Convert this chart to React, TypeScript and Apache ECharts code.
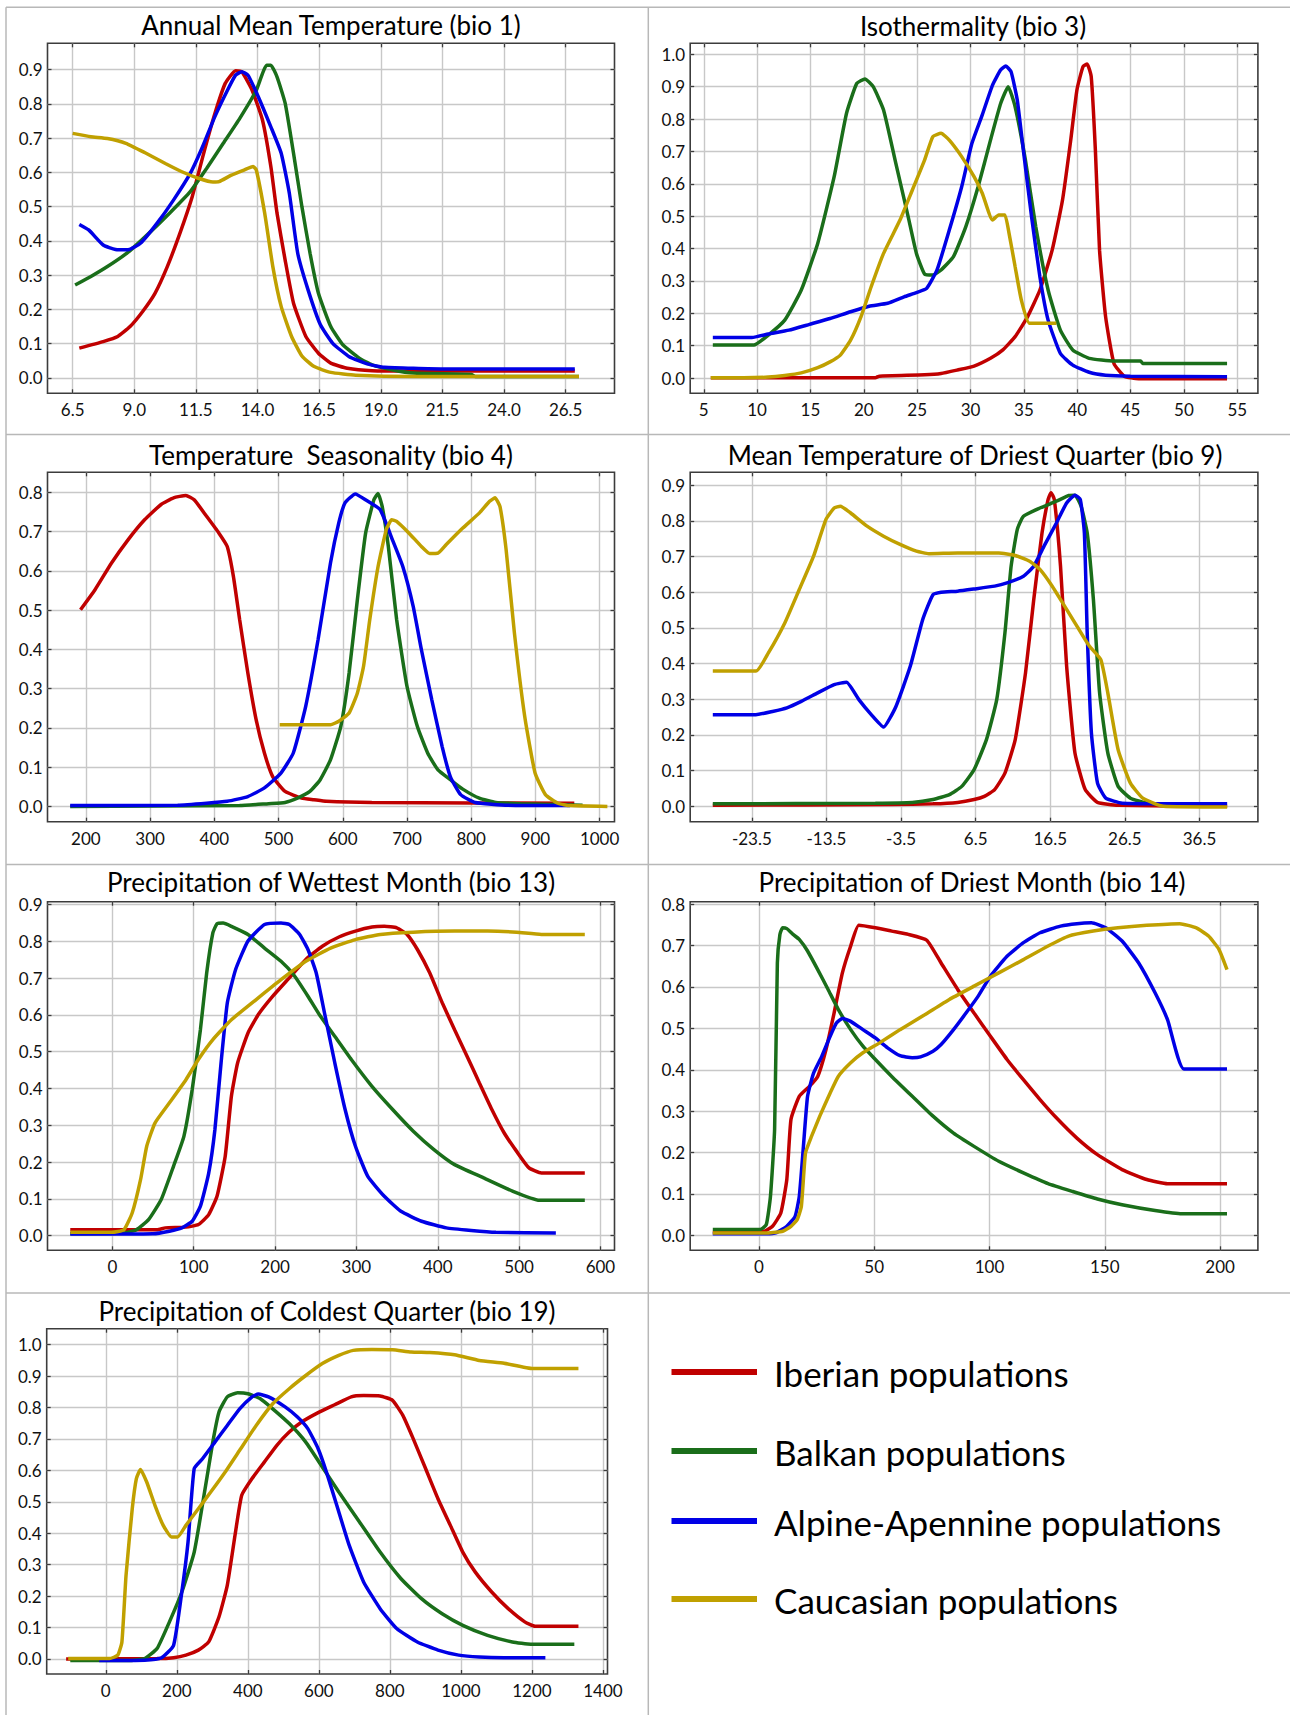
import React, { useEffect, useRef } from "react";
import * as echarts from "echarts";

const SERIES_NAMES = ["Iberian populations", "Balkan populations", "Alpine-Apennine populations", "Caucasian populations"];
const COLORS = ["#c00000", "#1a6e1a", "#0000e6", "#c0a000"];

// ---------- bio 1 ----------
const bio1XTicks = [6.5, 9.0, 11.5, 14.0, 16.5, 19.0, 21.5, 24.0, 26.5];
const bio1YTicks = [0, 0.1, 0.2, 0.3, 0.4, 0.5, 0.6, 0.7, 0.8, 0.9];
const bio1Iberian = [[6.77,0.087],[7.74,0.106],[8.33,0.121],[8.83,0.150],[9.34,0.194],[9.84,0.247],[10.34,0.325],[10.85,0.422],[11.35,0.529],[11.85,0.665],[12.27,0.772],[12.69,0.860],[13.11,0.897],[13.36,0.894],[13.78,0.840],[14.2,0.753],[14.54,0.617],[14.79,0.481],[15.12,0.344],[15.46,0.218],[15.96,0.121],[16.47,0.072],[16.97,0.043],[17.64,0.028],[18.65,0.021],[20.3,0.02],[26.87,0.02]];
const bio1Balkan = [[6.6,0.271],[7.24,0.296],[7.91,0.325],[8.75,0.367],[9.59,0.422],[10.43,0.481],[11.27,0.544],[11.94,0.612],[12.61,0.685],[13.28,0.758],[13.95,0.840],[14.37,0.913],[14.54,0.913],[14.79,0.879],[15.12,0.802],[15.46,0.656],[15.8,0.5],[16.13,0.364],[16.47,0.247],[16.97,0.150],[17.47,0.096],[18.14,0.057],[18.65,0.038],[19.49,0.023],[20.33,0.014],[22.67,0.010],[22.84,0.004],[27.04,0.004]];
const bio1Alpine = [[6.77,0.448],[7.15,0.432],[7.74,0.388],[8.24,0.375],[8.75,0.374],[9.25,0.393],[9.92,0.451],[10.59,0.519],[11.27,0.597],[11.77,0.675],[12.27,0.763],[12.78,0.840],[13.11,0.884],[13.36,0.894],[13.61,0.884],[14.03,0.821],[14.54,0.733],[14.96,0.656],[15.29,0.539],[15.63,0.364],[16.05,0.257],[16.55,0.155],[17.05,0.101],[17.72,0.062],[18.48,0.040],[19.15,0.031],[21.5,0.026],[26.87,0.026]];
const bio1Caucasian = [[6.5,0.714],[7.24,0.704],[7.91,0.699],[8.66,0.685],[9.42,0.658],[10.26,0.626],[10.93,0.602],[11.6,0.583],[12.19,0.572],[12.44,0.573],[12.94,0.592],[13.45,0.607],[13.82,0.617],[13.95,0.607],[14.29,0.481],[14.62,0.325],[14.96,0.208],[15.38,0.121],[15.8,0.064],[16.3,0.033],[16.97,0.016],[17.98,0.008],[20.33,0.004],[27.04,0.004]];

// ---------- bio 3 ----------
const bio3XTicks = [5, 10, 15, 20, 25, 30, 35, 40, 45, 50, 55];
const bio3YTicks = [0, 0.1, 0.2, 0.3, 0.4, 0.5, 0.6, 0.7, 0.8, 0.9, 1.0];
const bio3Iberian = [[5.66,0.001],[21.08,0.001],[21.46,0.006],[25.7,0.010],[27.24,0.014],[28.79,0.025],[30.33,0.037],[31.87,0.061],[33.03,0.087],[34.18,0.128],[35.34,0.189],[36.5,0.272],[37.65,0.395],[38.62,0.550],[39.39,0.735],[39.97,0.890],[40.54,0.962],[40.93,0.970],[41.31,0.931],[41.7,0.704],[42.09,0.395],[42.66,0.189],[43.44,0.045],[44.4,0.006],[45.75,-0.002],[54.04,-0.002]];
const bio3Balkan = [[5.85,0.102],[9.7,0.102],[11.05,0.133],[12.59,0.179],[14.14,0.272],[15.68,0.416],[17.22,0.622],[18.38,0.818],[19.34,0.910],[20.11,0.924],[20.88,0.900],[21.85,0.828],[23.0,0.663],[24.16,0.498],[24.93,0.385],[25.7,0.321],[26.47,0.318],[27.24,0.334],[28.4,0.375],[29.56,0.468],[30.71,0.591],[31.87,0.735],[32.83,0.849],[33.53,0.900],[34.18,0.838],[35.14,0.674],[36.11,0.468],[37.27,0.272],[38.42,0.148],[39.58,0.087],[41.12,0.061],[43.44,0.053],[45.94,0.053],[46.13,0.045],[54.04,0.045]];
const bio3Alpine = [[5.85,0.125],[9.51,0.125],[11.05,0.136],[12.98,0.148],[14.91,0.166],[16.83,0.184],[18.76,0.205],[20.5,0.222],[22.23,0.231],[23.77,0.251],[24.93,0.264],[25.89,0.277],[26.86,0.334],[28.01,0.457],[29.17,0.591],[30.13,0.725],[31.1,0.813],[32.06,0.905],[32.83,0.952],[33.3,0.964],[33.8,0.946],[34.38,0.859],[34.95,0.704],[35.72,0.498],[36.5,0.313],[37.27,0.179],[38.42,0.076],[39.58,0.040],[41.12,0.018],[42.66,0.009],[44.98,0.006],[54.04,0.004]];
const bio3Caucasian = [[5.66,0.001],[8.74,0.001],[11.05,0.003],[12.59,0.008],[14.14,0.016],[15.68,0.032],[16.83,0.050],[17.8,0.071],[18.76,0.117],[19.73,0.189],[20.69,0.282],[21.85,0.385],[23.39,0.488],[24.55,0.581],[25.7,0.674],[26.47,0.746],[27.24,0.756],[28.01,0.735],[29.17,0.684],[30.33,0.622],[31.1,0.571],[32.06,0.488],[32.64,0.504],[33.22,0.504],[33.61,0.447],[34.18,0.344],[34.76,0.241],[35.53,0.169],[38.04,0.169]];

// ---------- bio 4 ----------
const bio4XTicks = [200, 300, 400, 500, 600, 700, 800, 900, 1000];
const bio4YTicks = [0, 0.1, 0.2, 0.3, 0.4, 0.5, 0.6, 0.7, 0.8];
const bio4Iberian = [[191.6,0.501],[214.2,0.552],[239.9,0.620],[265.6,0.679],[291.4,0.730],[317.1,0.769],[336.4,0.786],[355.7,0.792],[368.6,0.781],[387.9,0.739],[407.2,0.696],[420.1,0.662],[429.7,0.586],[439.4,0.476],[452.2,0.340],[465.1,0.221],[478,0.136],[490.9,0.076],[510.2,0.038],[535.9,0.021],[555.2,0.017],[574.5,0.013],[645.3,0.010],[960.6,0.008]];
const bio4Balkan = [[175.5,0.0],[439.4,0.002],[484.4,0.007],[510.2,0.010],[529.5,0.021],[548.8,0.038],[564.9,0.068],[581,0.119],[597.0,0.204],[609.9,0.340],[622.8,0.527],[635.6,0.696],[648.5,0.781],[654.9,0.797],[661.4,0.764],[671,0.662],[683.9,0.476],[700,0.306],[716.1,0.204],[732.2,0.136],[748.3,0.093],[767.6,0.068],[786.9,0.044],[812.6,0.021],[838.4,0.010],[877,0.007],[973.5,0.003]];
const bio4Alpine = [[175.5,0.002],[342.9,0.003],[387.9,0.008],[420.1,0.013],[452.2,0.025],[478,0.047],[503.7,0.085],[523,0.136],[542.3,0.255],[561.6,0.425],[580.9,0.620],[593.8,0.722],[603.5,0.773],[619.6,0.796],[635.6,0.781],[658.1,0.756],[677.4,0.679],[693.5,0.611],[709.6,0.510],[722.5,0.399],[738.6,0.272],[754.7,0.153],[767.5,0.076],[783.6,0.030],[806.2,0.010],[857.6,0.003],[954.2,0.002]];
const bio4Caucasian = [[501.8,0.208],[581,0.208],[593.8,0.217],[609.9,0.238],[622.8,0.289],[632.4,0.357],[642.1,0.476],[655,0.611],[667.8,0.705],[676.2,0.730],[683.9,0.726],[703.2,0.696],[722.5,0.662],[735.4,0.644],[748.3,0.645],[761.2,0.667],[786.9,0.709],[812.6,0.747],[828.7,0.777],[837.1,0.786],[844.8,0.764],[854.4,0.654],[867.3,0.442],[883.4,0.229],[899.5,0.085],[915.6,0.030],[934.9,0.008],[954.2,0.002],[1012.1,0.0]];

// ---------- bio 9 ----------
const bio9XTicks = [-23.5, -13.5, -3.5, 6.5, 16.5, 26.5, 36.5];
const bio9YTicks = [0, 0.1, 0.2, 0.3, 0.4, 0.5, 0.6, 0.7, 0.8, 0.9];
const bio9Iberian = [[-28.74,0.003],[-4.75,0.005],[0.77,0.007],[4.08,0.011],[6.29,0.019],[7.66,0.028],[9.04,0.047],[10.42,0.093],[11.8,0.187],[13.18,0.374],[14.28,0.579],[15.39,0.766],[16.21,0.860],[16.6,0.879],[17.04,0.860],[17.87,0.673],[18.69,0.393],[19.8,0.150],[21.18,0.047],[22.83,0.011],[25.59,0.003],[40.21,0.0]];
const bio9Balkan = [[-28.74,0.007],[-6.95,0.009],[-1.99,0.011],[0.77,0.019],[2.98,0.033],[4.63,0.056],[6.29,0.103],[7.94,0.187],[9.32,0.299],[10.42,0.486],[11.25,0.673],[12.08,0.776],[12.9,0.813],[15.11,0.836],[17.32,0.855],[18.97,0.871],[19.8,0.872],[20.63,0.841],[21.45,0.766],[22.28,0.579],[23.11,0.318],[24.21,0.150],[25.59,0.056],[27.24,0.023],[29.45,0.009],[31.66,0.005]];
const bio9Alpine = [[-28.74,0.257],[-22.95,0.257],[-20.74,0.266],[-18.81,0.276],[-16.88,0.294],[-14.67,0.318],[-12.47,0.341],[-10.81,0.348],[-9.16,0.299],[-7.5,0.257],[-5.85,0.222],[-4.19,0.280],[-2.26,0.393],[-0.61,0.523],[0.77,0.593],[1.87,0.600],[4.08,0.603],[6.29,0.609],[9.04,0.617],[10.7,0.626],[12.9,0.645],[14.28,0.673],[15.66,0.729],[17.32,0.794],[18.69,0.850],[19.8,0.872],[20.52,0.860],[21.07,0.766],[21.45,0.486],[22.01,0.206],[22.83,0.065],[23.94,0.023],[26.14,0.009],[40.21,0.007]];
const bio9Caucasian = [[-28.74,0.379],[-22.95,0.379],[-21.29,0.430],[-19.09,0.514],[-17.16,0.607],[-15.23,0.701],[-13.57,0.804],[-12.47,0.836],[-11.64,0.841],[-10.26,0.822],[-8.06,0.785],[-5.85,0.757],[-3.64,0.734],[-1.44,0.715],[0.22,0.708],[4.08,0.710],[9.59,0.710],[11.8,0.703],[13.73,0.687],[15.11,0.664],[16.76,0.617],[18.42,0.561],[20.07,0.505],[21.73,0.449],[23.27,0.411],[24.21,0.318],[25.59,0.159],[27.24,0.065],[28.9,0.023],[31.66,0.0],[40.21,-0.002]];

// ---------- bio 13 ----------
const bio13XTicks = [0, 100, 200, 300, 400, 500, 600];
const bio13YTicks = [0, 0.1, 0.2, 0.3, 0.4, 0.5, 0.6, 0.7, 0.8, 0.9];
const bio13Iberian = [[-51.8,0.016],[54.9,0.016],[65,0.021],[90.4,0.023],[105.7,0.030],[118.4,0.057],[128.6,0.107],[138.7,0.216],[146.3,0.379],[154,0.470],[166.7,0.551],[179.4,0.601],[197.2,0.651],[217.5,0.701],[237.8,0.751],[258.1,0.787],[278.5,0.812],[298.8,0.828],[319.1,0.839],[334.3,0.841],[349.6,0.837],[362.3,0.819],[375,0.778],[390.2,0.714],[405.5,0.633],[420.7,0.560],[436,0.488],[451.2,0.415],[466.5,0.343],[481.7,0.279],[497,0.229],[512.2,0.184],[527.4,0.170],[580.8,0.170]];
const bio13Balkan = [[-51.8,0.005],[14.2,0.007],[29.5,0.016],[44.7,0.044],[60,0.098],[75.2,0.189],[87.9,0.270],[98.1,0.397],[108.2,0.560],[115.9,0.714],[123.5,0.823],[128.6,0.848],[136.2,0.850],[146.3,0.841],[166.7,0.819],[187,0.782],[207.3,0.746],[222.6,0.710],[240.4,0.651],[255.6,0.597],[273.4,0.542],[293.7,0.479],[319.1,0.406],[344.5,0.343],[369.9,0.284],[395.3,0.234],[420.7,0.193],[456.3,0.157],[491.9,0.121],[524.9,0.096],[580.8,0.096]];
const bio13Alpine = [[-51.8,0.004],[49.8,0.005],[70.1,0.012],[85.4,0.021],[98.1,0.039],[108.2,0.080],[118.4,0.170],[126,0.288],[133.6,0.470],[141.3,0.633],[151.4,0.723],[166.7,0.801],[187,0.846],[207.3,0.850],[217.5,0.846],[230.2,0.819],[240.4,0.778],[250.6,0.714],[260.7,0.606],[273.4,0.470],[286.1,0.343],[298.8,0.243],[314,0.161],[334.3,0.107],[354.7,0.066],[380.1,0.039],[410.6,0.021],[441.1,0.014],[471.5,0.009],[545.2,0.007]];
const bio13Caucasian = [[-51.8,0.009],[-1,0.009],[14.2,0.016],[24.4,0.062],[34.6,0.152],[42.2,0.243],[52.3,0.306],[70.1,0.361],[90.4,0.424],[105.7,0.479],[123.5,0.533],[146.3,0.587],[176.8,0.642],[207.3,0.696],[237.8,0.746],[268.3,0.782],[298.8,0.805],[329.3,0.819],[369.9,0.825],[420.7,0.828],[461.4,0.828],[497,0.825],[527.4,0.819],[580.8,0.819]];

// ---------- bio 14 ----------
const bio14XTicks = [0, 50, 100, 150, 200];
const bio14YTicks = [0, 0.1, 0.2, 0.3, 0.4, 0.5, 0.6, 0.7, 0.8];
const bio14Iberian = [[-20,0.007],[2.3,0.010],[5.9,0.022],[9.5,0.054],[12.1,0.135],[13.9,0.280],[17.5,0.336],[21.9,0.360],[25.5,0.384],[29.1,0.449],[32.6,0.537],[36.2,0.634],[39.8,0.699],[43.3,0.749],[50.5,0.743],[57.6,0.735],[64.8,0.727],[72.8,0.713],[79,0.658],[86.2,0.594],[93.3,0.537],[100.4,0.481],[107.6,0.425],[114.7,0.376],[121.9,0.328],[129,0.284],[137.9,0.235],[146.8,0.195],[157.5,0.159],[168.2,0.135],[177.2,0.125],[184.3,0.125],[203,0.125]];
const bio14Balkan = [[-20,0.014],[0.5,0.014],[3.2,0.026],[5,0.094],[6.8,0.255],[8,0.658],[9.1,0.727],[10.3,0.743],[12.1,0.741],[14.8,0.727],[17.5,0.715],[21.1,0.687],[25.5,0.642],[30,0.594],[34.4,0.546],[39.8,0.497],[45.1,0.457],[50.5,0.425],[57.6,0.384],[66.5,0.336],[75.5,0.288],[84.4,0.247],[93.3,0.215],[104,0.179],[114.7,0.151],[125.4,0.125],[136.1,0.106],[146.8,0.088],[157.5,0.074],[171.8,0.060],[183.4,0.052],[203,0.052]];
const bio14Alpine = [[-20,0.004],[3.2,0.004],[7.7,0.007],[12.1,0.022],[15.7,0.046],[17.5,0.094],[19.3,0.215],[21.1,0.336],[23.7,0.392],[27.3,0.433],[30.9,0.481],[33.6,0.513],[36.2,0.524],[39.8,0.517],[45.1,0.497],[50.5,0.477],[55.8,0.453],[61.2,0.434],[66.5,0.429],[70.1,0.431],[75.5,0.445],[79,0.461],[84.4,0.497],[89.8,0.537],[95.1,0.578],[100.4,0.626],[107.6,0.674],[114.7,0.707],[121.9,0.731],[130.8,0.747],[137.9,0.753],[144.2,0.755],[150.4,0.743],[157.5,0.711],[164.7,0.658],[171.8,0.586],[177.2,0.521],[184.3,0.402],[203,0.402]];
const bio14Caucasian = [[-20,0.006],[4.1,0.006],[10.3,0.010],[13.9,0.022],[16.6,0.038],[18.4,0.070],[20.2,0.199],[22.8,0.239],[26.4,0.288],[30.9,0.344],[34.4,0.384],[39.8,0.417],[45.1,0.441],[52.3,0.465],[61.2,0.497],[71.9,0.533],[82.6,0.570],[93.3,0.602],[104,0.634],[114.7,0.666],[125.4,0.699],[134.3,0.723],[145,0.735],[155.7,0.743],[168.2,0.749],[182.5,0.753],[189.7,0.743],[195,0.723],[199.5,0.691],[203,0.642]];

// ---------- bio 19 ----------
const bio19XTicks = [0, 200, 400, 600, 800, 1000, 1200, 1400];
const bio19YTicks = [0, 0.1, 0.2, 0.3, 0.4, 0.5, 0.6, 0.7, 0.8, 0.9, 1.0];
const bio19Iberian = [[-111.7,0.0],[144.3,0.001],[190.8,0.004],[225.7,0.012],[260.6,0.028],[289.7,0.054],[318.8,0.134],[342.1,0.234],[365.3,0.404],[382.8,0.521],[411.9,0.574],[446.8,0.627],[481.7,0.680],[516.6,0.722],[551.5,0.754],[598,0.784],[644.6,0.809],[691.1,0.834],[726,0.838],[772.5,0.837],[807.4,0.823],[836.5,0.775],[865.6,0.701],[900.5,0.606],[935.4,0.510],[970.3,0.425],[1005.2,0.340],[1040.1,0.277],[1086.7,0.213],[1133.2,0.160],[1179.8,0.118],[1208.8,0.104],[1331,0.104]];
const bio19Balkan = [[-100,-0.005],[62.8,-0.005],[109.4,0.001],[144.3,0.033],[179.2,0.118],[214.1,0.213],[249,0.340],[278.1,0.531],[301.3,0.690],[318.8,0.786],[342.1,0.834],[371.2,0.847],[400.2,0.844],[435.1,0.828],[470.1,0.796],[516.6,0.749],[563.1,0.690],[609.7,0.611],[656.2,0.531],[714.4,0.436],[772.5,0.340],[830.7,0.256],[888.9,0.192],[947.1,0.144],[1005.2,0.107],[1075,0.075],[1144.9,0.054],[1197.2,0.047],[1319.4,0.047]];
const bio19Alpine = [[-18.6,-0.005],[109.4,-0.004],[155.9,0.003],[190.8,0.043],[214.1,0.213],[231.6,0.372],[249,0.606],[272.3,0.637],[307.2,0.690],[342.1,0.743],[377,0.796],[411.9,0.834],[429.3,0.843],[458.4,0.834],[504.9,0.802],[539.8,0.770],[568.9,0.733],[598,0.669],[621.3,0.595],[650.4,0.489],[685.3,0.362],[726,0.245],[772.5,0.160],[819.1,0.097],[877.3,0.054],[935.4,0.028],[993.6,0.012],[1051.8,0.006],[1121.6,0.004],[1237.9,0.004]];
const bio19Caucasian = [[-105.9,0.001],[10.5,0.001],[33.7,0.012],[45.4,0.054],[57,0.266],[74.5,0.478],[86.1,0.574],[97.7,0.603],[115.2,0.563],[138.4,0.489],[161.7,0.425],[185,0.388],[202.4,0.388],[225.7,0.425],[260.6,0.478],[295.5,0.531],[336.3,0.595],[377,0.664],[423.5,0.743],[470.1,0.812],[516.6,0.860],[563.1,0.902],[609.7,0.940],[656.2,0.966],[696.9,0.982],[749.3,0.985],[807.4,0.984],[859.8,0.977],[912.1,0.975],[982,0.968],[1051.8,0.950],[1121.6,0.941],[1203,0.924],[1331,0.924]];

// ---------- panel layout (pixels / axis extents) ----------
const PANELS = [
  { title: "Annual Mean Temperature (bio 1)", tx: 331, ty: 25, frame: [47.5, 43.3, 614.5, 393.3], x: [5.48, 28.48], y: [-0.045, 0.977], xTicks: bio1XTicks, yTicks: bio1YTicks, xDec: 1, series: [bio1Iberian, bio1Balkan, bio1Alpine, bio1Caucasian] },
  { title: "Isothermality (bio 3)", tx: 973, ty: 26, frame: [690.2, 43.3, 1257.9, 393.3], x: [3.73, 56.93], y: [-0.047, 1.034], xTicks: bio3XTicks, yTicks: bio3YTicks, xDec: 0, series: [bio3Iberian, bio3Balkan, bio3Alpine, bio3Caucasian] },
  { title: "Temperature  Seasonality (bio 4)", tx: 331, ty: 455, frame: [47.5, 472.3, 614.5, 821.7], x: [140.2, 1023.2], y: [-0.039, 0.851], xTicks: bio4XTicks, yTicks: bio4YTicks, xDec: 0, series: [bio4Iberian, bio4Balkan, bio4Alpine, bio4Caucasian] },
  { title: "Mean Temperature of Driest Quarter (bio 9)", tx: 975, ty: 455, frame: [690.2, 472.3, 1257.9, 821.7], x: [-31.77, 44.33], y: [-0.043, 0.936], xTicks: bio9XTicks, yTicks: bio9YTicks, xDec: 1, series: [bio9Iberian, bio9Balkan, bio9Alpine, bio9Caucasian] },
  { title: "Precipitation of Wettest Month (bio 13)", tx: 331, ty: 882, frame: [47.5, 901.7, 614.5, 1250.3], x: [-79.8, 617.3], y: [-0.04, 0.908], xTicks: bio13XTicks, yTicks: bio13YTicks, xDec: 0, series: [bio13Iberian, bio13Balkan, bio13Alpine, bio13Caucasian] },
  { title: "Precipitation of Driest Month (bio 14)", tx: 972, ty: 882, frame: [690.2, 901.7, 1257.9, 1250.3], x: [-29.8, 216.4], y: [-0.036, 0.806], xTicks: bio14XTicks, yTicks: bio14YTicks, xDec: 0, series: [bio14Iberian, bio14Balkan, bio14Alpine, bio14Caucasian] },
  { title: "Precipitation of Coldest Quarter (bio 19)", tx: 327, ty: 1311, frame: [46.7, 1328.7, 607.5, 1674], x: [-166.4, 1412.8], y: [-0.048, 1.051], xTicks: bio19XTicks, yTicks: bio19YTicks, xDec: 0, series: [bio19Iberian, bio19Balkan, bio19Alpine, bio19Caucasian] },
];

const LEGEND_Y = [1372, 1451, 1521, 1599];
const FONT = "Lato";

function buildOption() {
  const grid: any[] = [];
  const xAxis: any[] = [];
  const yAxis: any[] = [];
  const series: any[] = [];
  const graphic: any[] = [];

  PANELS.forEach((p, i) => {
    const [l, t, r, b] = p.frame;
    grid.push({ left: l, top: t, width: r - l, height: b - t, show: true, borderColor: "#3c3c3c", borderWidth: 1.6, backgroundColor: "transparent", containLabel: false });
    const tickCommon = { show: true, inside: true, length: 4, lineStyle: { color: "#3c3c3c", width: 1.3 } };
    const noLine = { show: false, onZero: false };
    xAxis.push({
      type: "value", gridIndex: i, min: p.x[0], max: p.x[1], position: "bottom",
      axisLine: noLine,
      axisTick: { ...tickCommon, customValues: p.xTicks },
      axisLabel: { show: true, customValues: p.xTicks, margin: 8, color: "#111", fontSize: 17, fontFamily: FONT, formatter: (v: number) => v.toFixed(p.xDec) },
      splitLine: { show: true, lineStyle: { color: "#c8c8c8", width: 1.4 } },
    });
    xAxis.push({
      type: "value", gridIndex: i, min: p.x[0], max: p.x[1], position: "top",
      axisLine: noLine,
      axisTick: { ...tickCommon, customValues: p.xTicks },
      axisLabel: { show: false },
      splitLine: { show: false },
    });
    yAxis.push({
      type: "value", gridIndex: i, min: p.y[0], max: p.y[1], position: "left",
      axisLine: noLine,
      axisTick: { ...tickCommon, customValues: p.yTicks },
      axisLabel: { show: true, customValues: p.yTicks, margin: 5, color: "#111", fontSize: 17, fontFamily: FONT, formatter: (v: number) => v.toFixed(1) },
      splitLine: { show: true, lineStyle: { color: "#c8c8c8", width: 1.4 } },
    });
    yAxis.push({
      type: "value", gridIndex: i, min: p.y[0], max: p.y[1], position: "right",
      axisLine: noLine,
      axisTick: { ...tickCommon, customValues: p.yTicks },
      axisLabel: { show: false },
      splitLine: { show: false },
    });
    p.series.forEach((d, k) => {
      series.push({
        type: "line", name: SERIES_NAMES[k], xAxisIndex: 2 * i, yAxisIndex: 2 * i,
        data: d, showSymbol: false, symbol: "none", smooth: 0.15, clip: true,
        lineStyle: { color: COLORS[k], width: 3.5 }, itemStyle: { color: COLORS[k] }, z: 3,
      });
    });
    graphic.push({ type: "text", x: p.tx, y: p.ty, style: { text: p.title, fontSize: 26, fontFamily: FONT, fill: "#000", align: "center", verticalAlign: "middle" } });
  });

  // panel separators
  const sep = { stroke: "#b8b8b8", lineWidth: 1.5 };
  [7.3, 434.5, 864.5, 1293].forEach((y) => graphic.push({ type: "line", shape: { x1: 6, y1: y, x2: 1290, y2: y }, style: sep }));
  [6, 648.3].forEach((x) => graphic.push({ type: "line", shape: { x1: x, y1: 7.3, x2: x, y2: 1715 }, style: sep }));

  // legend
  SERIES_NAMES.forEach((name, k) => {
    graphic.push({ type: "line", shape: { x1: 671.5, y1: LEGEND_Y[k], x2: 757, y2: LEGEND_Y[k] }, style: { stroke: COLORS[k], lineWidth: 6 } });
    graphic.push({ type: "text", x: 774, y: LEGEND_Y[k] + 1, style: { text: name, fontSize: 35, fontFamily: FONT, fill: "#000", align: "left", verticalAlign: "middle" } });
  });

  return { animation: false, backgroundColor: "#fff", grid, xAxis, yAxis, series, graphic };
}

export default function App() {
  const ref = useRef<HTMLDivElement>(null);
  useEffect(() => {
    if (!ref.current) return;
    const chart = echarts.init(ref.current, undefined, { renderer: "svg" });
    chart.setOption(buildOption() as any);
    return () => chart.dispose();
  }, []);
  return <div ref={ref} style={{ position: "absolute", left: 0, top: 0, width: 1290, height: 1715, background: "#fff" }} />;
}
